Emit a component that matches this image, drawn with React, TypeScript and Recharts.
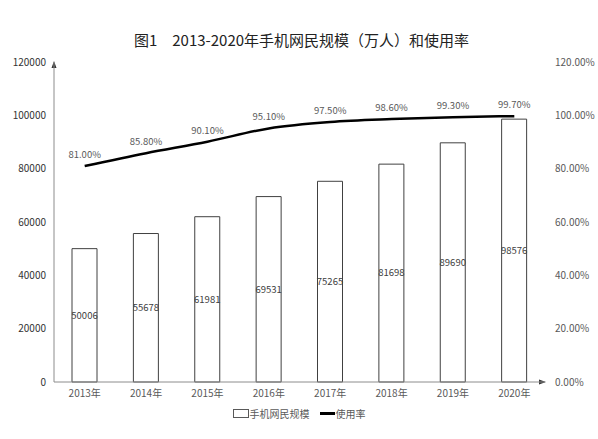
import React from 'react';
import { ComposedChart, Bar, Line, XAxis, YAxis, LabelList, Legend, ReferenceLine } from 'recharts';

const years = ['2013年', '2014年', '2015年', '2016年', '2017年', '2018年', '2019年', '2020年'];
const users = [50006, 55678, 61981, 69531, 75265, 81698, 89690, 98576];
const rates = [81.0, 85.8, 90.1, 95.1, 97.5, 98.6, 99.3, 99.7];
const leftTicks = [0, 20000, 40000, 60000, 80000, 100000, 120000];
const rightTicks = [0, 20, 40, 60, 80, 100, 120];

const data = years.map((y, i) => ({ year: y, users: users[i], rate: rates[i] }));

const FONT = '"Noto Sans CJK SC", "Liberation Sans", sans-serif';
const AXIS = '#8c8c8c';
const TXT = '#595959';

const UpArrow = (p: any) => {
  const x = Math.min(p.x1, p.x2);
  const y = p.y1;
  return <polygon points={`${x - 2.5},${y + 6} ${x + 2.5},${y + 6} ${x},${y - 1}`} fill="#333" />;
};

const RightArrow = (p: any) => {
  const x = Math.max(p.x1, p.x2);
  const y = p.y1;
  return <polygon points={`${x - 6},${y - 2.5} ${x - 6},${y + 2.5} ${x + 1},${y}`} fill="#333" />;
};

const LegendContent = () => (
  <div style={{ display: 'flex', justifyContent: 'center', alignItems: 'center', fontFamily: FONT, fontSize: 10, color: TXT }}>
    <span style={{ display: 'inline-block', width: 14, height: 7, border: '1px solid #595959', background: '#fff', marginRight: 1 }} />
    <span>手机网民规模</span>
    <span style={{ display: 'inline-block', width: 15, height: 2.5, background: '#000', marginLeft: 10, marginRight: 1 }} />
    <span>使用率</span>
  </div>
);

export default function App() {
  return (
    <div style={{ position: 'absolute', left: 0, top: 0, width: 598, height: 439, background: '#fff' }}>
      <div
        style={{
          position: 'absolute',
          top: 30,
          left: 0,
          width: 598,
          textAlign: 'center',
          fontFamily: FONT,
          fontSize: 15,
          color: '#222',
          lineHeight: '20px',
          paddingLeft: 5,
          boxSizing: 'border-box',
        }}
      >
        图1　2013-2020年手机网民规模（万人）和使用率
      </div>
      <ComposedChart
        width={598}
        height={439}
        data={data}
        margin={{ top: 62, right: 8, bottom: 27, left: 8 }}
        style={{ fontFamily: FONT }}
      >
        <XAxis
          dataKey="year"
          tickLine={false}
          axisLine={{ stroke: AXIS }}
          tick={{ fontSize: 10, fill: TXT }}
          height={30}
        />
        <YAxis
          yAxisId="left"
          domain={[0, 120000]}
          ticks={leftTicks}
          width={46}
          tickLine={false}
          axisLine={{ stroke: AXIS }}
          tick={{ fontSize: 10, fill: '#333' }}
          interval={0}
        />
        <YAxis
          yAxisId="right"
          orientation="right"
          domain={[0, 120]}
          ticks={rightTicks}
          width={45}
          tickLine={false}
          axisLine={false}
          tickMargin={4}
          tick={{ fontSize: 10, fill: TXT }}
          tickFormatter={(v: number) => `${v.toFixed(2)}%`}
          interval={0}
        />
        <ReferenceLine yAxisId="left" y={120000} shape={UpArrow} />
        <ReferenceLine yAxisId="left" y={0} shape={RightArrow} />
        <Bar
          yAxisId="left"
          dataKey="users"
          barSize={25}
          fill="#fff"
          stroke="#404040"
          strokeWidth={1}
          isAnimationActive={false}
        >
          <LabelList dataKey="users" position="center" style={{ fontSize: 9.5, fill: '#404040' }} />
        </Bar>
        <Line
          yAxisId="right"
          type="monotone"
          dataKey="rate"
          stroke="#000"
          strokeWidth={2.5}
          dot={false}
          isAnimationActive={false}
        >
          <LabelList
            dataKey="rate"
            position="top"
            offset={8}
            formatter={(v: number) => `${v.toFixed(2)}%`}
            style={{ fontSize: 9.5, fill: TXT }}
          />
        </Line>
        <Legend
          layout="horizontal"
          verticalAlign="middle"
          align="center"
          content={LegendContent}
          wrapperStyle={{ top: 406, left: 0, width: 598, height: 16 }}
        />
      </ComposedChart>
    </div>
  );
}
